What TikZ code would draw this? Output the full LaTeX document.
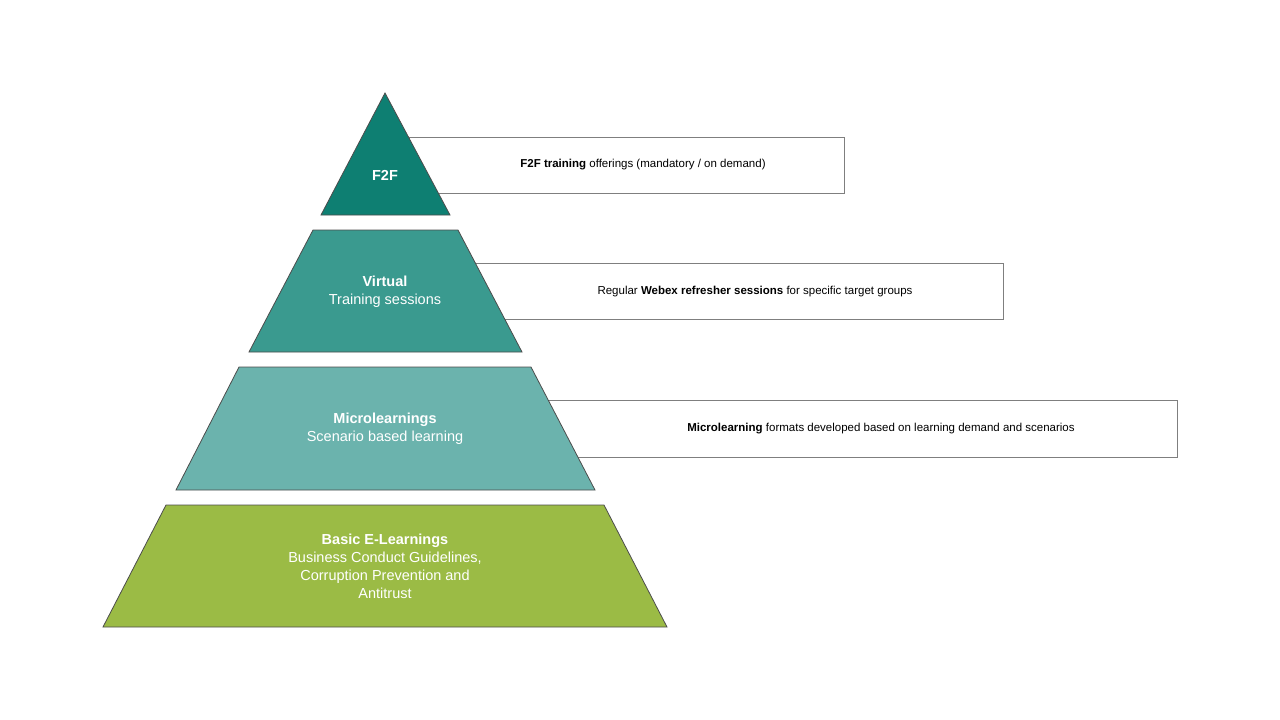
\documentclass[tikz,border=0pt]{standalone}
\usepackage{fontspec}
\setmainfont{Liberation Sans}
\definecolor{c1}{HTML}{0E7F72}
\definecolor{c2}{HTML}{3A9A8F}
\definecolor{c3}{HTML}{6BB3AD}
\definecolor{c4}{HTML}{9BBB45}
\definecolor{bx}{HTML}{7F7F7F}
\begin{document}
\begin{tikzpicture}[x=1pt,y=-1pt,
  box/.style={draw=bx,line width=0.8pt,fill=white},
  lvl/.style={draw=black!70,line width=0.8pt},
  wt/.style={text=white,font=\fontsize{14.5}{18}\selectfont,align=center},
  bt/.style={text=black,font=\fontsize{11.5}{14}\selectfont,anchor=center}]
\useasboundingbox (0,0) rectangle (1280,720);
\draw[box] (409,137) rectangle (844,193);
\draw[box] (475,263) rectangle (1003,319);
\draw[box] (548,400) rectangle (1177,457);
\node[bt] (t1) at (643,165) {\textbf{F2F training} offerings (mandatory / on demand)};
\node[bt] (t2) at (755,292) {Regular \textbf{Webex refresher sessions} for specific target groups};
\node[bt] (t3) at (881,429) {\textbf{Microlearning} formats developed based on learning demand and scenarios};
\draw[lvl,fill=c1] (385,93) -- (450,215) -- (321,215) -- cycle;
\draw[lvl,fill=c2] (313,230) -- (458,230) -- (522,352) -- (249,352) -- cycle;
\draw[lvl,fill=c3] (239,367) -- (531,367) -- (595,490) -- (176,490) -- cycle;
\draw[lvl,fill=c4] (166,505) -- (604,505) -- (667,627) -- (103,627) -- cycle;
\node[wt] (l1) at (385,175) {\textbf{F2F}};
\node[wt] (l2) at (385,292) {\textbf{Virtual}\\Training sessions};
\node[wt] (l3) at (385,429) {\textbf{Microlearnings}\\Scenario based learning};
\node[wt] (l4) at (385,566) {\textbf{Basic E-Learnings}\\Business Conduct Guidelines,\\Corruption Prevention and\\Antitrust};
\end{tikzpicture}
\end{document}
